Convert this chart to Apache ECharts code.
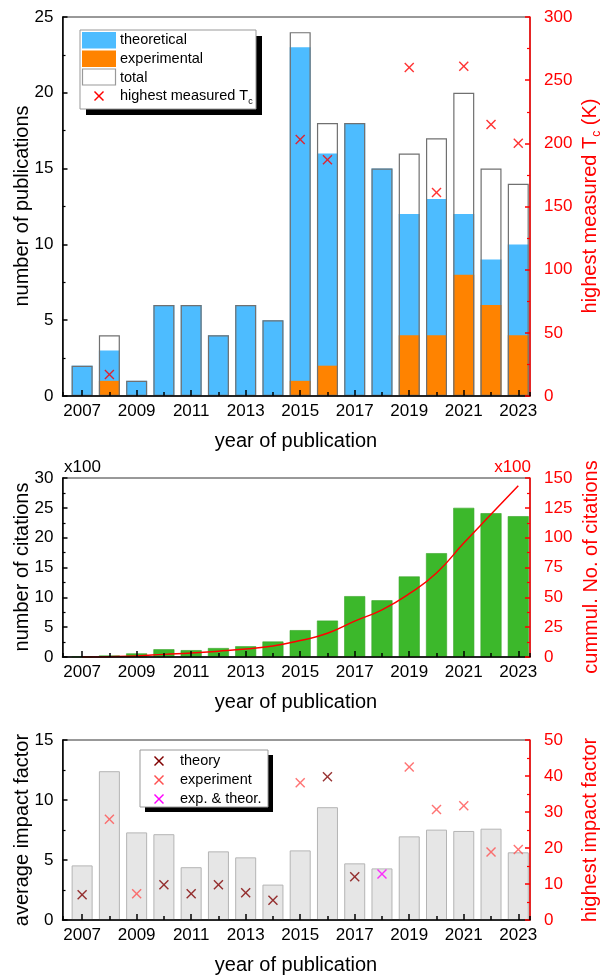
<!DOCTYPE html>
<html><head><meta charset="utf-8">
<script src="https://cdn.jsdelivr.net/npm/echarts@6.0.0/dist/echarts.min.js"></script>
<style>html,body{margin:0;padding:0;background:#fff}#c{width:611px;height:976px}</style>
</head><body><div id="c"></div>
<script>
// ---- data ----
const years = [2007,2008,2009,2010,2011,2012,2013,2014,2015,2016,2017,2018,2019,2020,2021,2022,2023];
const theoretical = [2,3,1,6,6,4,6,5,23,16,18,15,12,13,12,9,10];
const experimental = [0,1,0,0,0,0,0,0,1,2,0,0,4,4,8,6,4];
const total = [2,4,1,6,6,4,6,5,24,18,18,15,16,17,20,15,14];
const highestTc = [null,17,null,null,null,null,null,null,203,187,null,null,260,161,261,215,200];
const citations = [0.05,0.25,0.6,1.3,1.15,1.5,1.8,2.6,4.5,6.1,10.2,9.5,13.5,17.4,25.0,24.1,23.6];
const cumulCitations = [0.05,0.3,0.9,2.2,3.35,4.85,6.65,9.25,13.75,19.85,30.05,39.55,53.05,70.45,95.45,119.55,143.5];
const avgImpact = [4.55,12.4,7.3,7.15,4.4,5.72,5.22,2.95,5.8,9.4,4.72,4.3,6.97,7.53,7.42,7.61,5.64];
const theoryIF = [7,null,null,9.8,7.3,9.8,7.6,5.5,null,39.8,12,null,null,null,null,null,null];
const experimentIF = [null,28,7.3,null,null,null,null,null,38.1,null,null,null,42.5,30.7,31.75,18.9,19.6];
const bothIF = [null,null,null,null,null,null,null,null,null,null,null,12.8,null,null,null,null,null];

// ---- styling ----
const F = 'Liberation Sans, Arial, Helvetica, sans-serif';
const BLUE = '#4dbcff', ORANGE = '#ff8300', GREEN = '#3cb82b', RED = '#ff0000';
const XMIN = -0.72, XMAX = 16.43;
const XPATH = 'path://M0,1L1,0L5,4L9,0L10,1L6,5L10,9L9,10L5,6L1,10L0,9L4,5Z';
const GL = 62.5, GW = 467.5;
const gridDefs = [{top:17,height:379},{top:478,height:179},{top:740,height:180}];

function idx(arr){ return arr.map((v,i)=>[i,v]); }
function pts(arr){ const o=[]; arr.forEach((v,i)=>{ if(v!=null) o.push([i,v]); }); return o; }

const grid = gridDefs.map(g=>({left:GL,width:GW,top:g.top,height:g.height,show:true,
  borderColor:'#333',borderWidth:1,backgroundColor:'rgba(0,0,0,0)'}));

const xAxis = [];
gridDefs.forEach((g,gi)=>{
  xAxis.push({type:'value',gridIndex:gi,position:'bottom',z:10,min:XMIN,max:XMAX,minInterval:2,maxInterval:2,
    axisLine:{show:true,onZero:false,lineStyle:{color:'#000',width:1.5}},
    axisTick:{show:true,inside:true,length:6,lineStyle:{color:'#000',width:1.5}},
    axisLabel:{show:true,color:'#000',fontSize:17,fontFamily:F,margin:7,showMinLabel:false,showMaxLabel:false,
      formatter:v=>(Number.isInteger(v)&&years[v]!==undefined)?String(years[v]):''},
    splitLine:{show:false}});
  xAxis.push({type:'value',gridIndex:gi,position:'bottom',z:10,min:XMIN+1,max:XMAX+1,minInterval:2,maxInterval:2,
    axisLine:{show:false,onZero:false},
    axisTick:{show:true,inside:true,length:4,lineStyle:{color:'#000',width:1.5}},
    axisLabel:{show:false},splitLine:{show:false}});
});

function yAx(gi,pos,max,interval,color){
  return {type:'value',gridIndex:gi,position:pos,z:10,min:0,max:max,interval:interval,
    axisLine:{show:true,onZero:false,lineStyle:{color:color,width:1.5}},
    axisTick:{show:true,inside:true,length:5,lineStyle:{color:color,width:1.5}},
    minorTick:{show:true,splitNumber:2,length:3,lineStyle:{color:color,width:1.2}},
    axisLabel:{color:color,fontSize:17,fontFamily:F,margin:pos==='left'?9:14},
    splitLine:{show:false},minorSplitLine:{show:false}};
}
const yAxis = [
  yAx(0,'left',25,5,'#000'), yAx(0,'right',300,50,RED),
  yAx(1,'left',30,5,'#000'), yAx(1,'right',150,25,RED),
  yAx(2,'left',15,5,'#000'), yAx(2,'right',50,10,RED)
];

const series = [
  {type:'bar',name:'theoretical',xAxisIndex:0,yAxisIndex:0,data:idx(theoretical),barWidth:21,barGap:'-100%',itemStyle:{color:BLUE}},
  {type:'bar',name:'experimental',xAxisIndex:0,yAxisIndex:0,data:idx(experimental),barWidth:21,barGap:'-100%',itemStyle:{color:ORANGE}},
  {type:'bar',name:'total',xAxisIndex:0,yAxisIndex:0,data:idx(total),barWidth:21,barGap:'-100%',
    itemStyle:{color:'rgba(0,0,0,0)',borderColor:'#707070',borderWidth:1.2}},
  {type:'scatter',name:'highest measured Tc',xAxisIndex:0,yAxisIndex:1,data:pts(highestTc),symbol:XPATH,symbolSize:10,itemStyle:{color:RED},z:5},
  {type:'bar',name:'citations',xAxisIndex:2,yAxisIndex:2,data:idx(citations),barWidth:21,
    itemStyle:{color:GREEN,borderColor:'#35a526',borderWidth:0.6}},
  {type:'line',name:'cumul',xAxisIndex:2,yAxisIndex:3,data:idx(cumulCitations),smooth:0.5,
    symbol:'none',showSymbol:false,lineStyle:{color:RED,width:1.5},z:5},
  {type:'bar',name:'avg IF',xAxisIndex:4,yAxisIndex:4,data:idx(avgImpact),barWidth:21,
    itemStyle:{color:'#e6e6e6',borderColor:'#b4b4b4',borderWidth:1}},
  {type:'scatter',name:'theory',xAxisIndex:4,yAxisIndex:5,data:pts(theoryIF),symbol:XPATH,symbolSize:10,itemStyle:{color:'#800000'},z:5},
  {type:'scatter',name:'experiment',xAxisIndex:4,yAxisIndex:5,data:pts(experimentIF),symbol:XPATH,symbolSize:10,itemStyle:{color:'#ff5050'},z:5},
  {type:'scatter',name:'exp. & theor.',xAxisIndex:4,yAxisIndex:5,data:pts(bothIF),symbol:XPATH,symbolSize:10,itemStyle:{color:'#ff00ff'},z:5}
];

function txt(x,y,text,opt){
  opt = opt||{};
  const el = {type:'text',x:x,y:y,rotation:opt.rot||0,z:100,
    style:{text:text,fill:opt.color||'#000',fontSize:opt.size||20,fontFamily:F,
      align:opt.align||'center',verticalAlign:'middle'}};
  if(opt.rich) el.style.rich = opt.rich;
  return el;
}
function xmark(cx,cy,color){
  return [
    {type:'line',z:101,shape:{x1:cx-4.5,y1:cy-4.5,x2:cx+4.5,y2:cy+4.5},style:{stroke:color,lineWidth:1.5}},
    {type:'line',z:101,shape:{x1:cx-4.5,y1:cy+4.5,x2:cx+4.5,y2:cy-4.5},style:{stroke:color,lineWidth:1.5}}
  ];
}
const richT = {a:{fontSize:20,fontFamily:F,fill:RED,lineHeight:26,verticalAlign:'middle'},
               s:{fontSize:12,fontFamily:F,fill:RED,verticalAlign:'bottom'}};
const richL = {a:{fontSize:14.5,fontFamily:F,fill:'#000',lineHeight:20,verticalAlign:'middle'},
               s:{fontSize:9,fontFamily:F,fill:'#000',verticalAlign:'bottom'}};

const graphic = [
  // axis titles
  txt(296,441,'year of publication'),
  txt(296,702,'year of publication'),
  txt(296,965,'year of publication'),
  txt(22,206,'number of publications',{rot:Math.PI/2}),
  txt(22,567,'number of citations',{rot:Math.PI/2}),
  txt(22,830,'average impact factor',{rot:Math.PI/2}),
  txt(590,206,'{a|highest measured T}{s|c}{a| (K)}',{rot:Math.PI/2,color:RED,rich:richT}),
  txt(591,567,'cummul. No. of citations',{rot:Math.PI/2,color:RED}),
  txt(590,830,'highest impact factor',{rot:Math.PI/2,color:RED}),
  txt(64,467,'x100',{size:17,align:'left'}),
  txt(531,467,'x100',{size:17,align:'right',color:RED}),
  // top legend
  {type:'rect',z:90,shape:{x:86,y:36,width:176,height:79},style:{fill:'#000'}},
  {type:'rect',z:91,shape:{x:80,y:30,width:176,height:79},style:{fill:'#fff',stroke:'#999',lineWidth:1}},
  {type:'rect',z:92,shape:{x:82,y:32,width:34,height:16.5},style:{fill:BLUE}},
  {type:'rect',z:92,shape:{x:82,y:50.5,width:34,height:16.5},style:{fill:ORANGE}},
  {type:'rect',z:92,shape:{x:82.5,y:69,width:33,height:16},style:{fill:'#fff',stroke:'#999',lineWidth:1.2}},
  ...xmark(99,96,RED),
  txt(120,40,'theoretical',{size:14.5,align:'left'}),
  txt(120,59,'experimental',{size:14.5,align:'left'}),
  txt(120,77.5,'total',{size:14.5,align:'left'}),
  txt(120,96,'{a|highest measured T}{s|c}',{size:14.5,align:'left',rich:richL}),
  // bottom legend
  {type:'rect',z:90,shape:{x:145,y:755,width:128,height:57},style:{fill:'#000'}},
  {type:'rect',z:91,shape:{x:140,y:750,width:128,height:57},style:{fill:'#fff',stroke:'#999',lineWidth:1}},
  ...xmark(159,761,'#800000'),
  ...xmark(159,780,'#ff5050'),
  ...xmark(159,799,'#ff00ff'),
  txt(180,761,'theory',{size:14.5,align:'left'}),
  txt(180,780,'experiment',{size:14.5,align:'left'}),
  txt(180,799,'exp. & theor.',{size:14.5,align:'left'})
];

const chart = echarts.init(document.getElementById('c'),null,{renderer:'canvas'});
chart.setOption({animation:false,backgroundColor:'#fff',textStyle:{fontFamily:F},
  grid:grid,xAxis:xAxis,yAxis:yAxis,series:series,graphic:graphic});
</script></body></html>
